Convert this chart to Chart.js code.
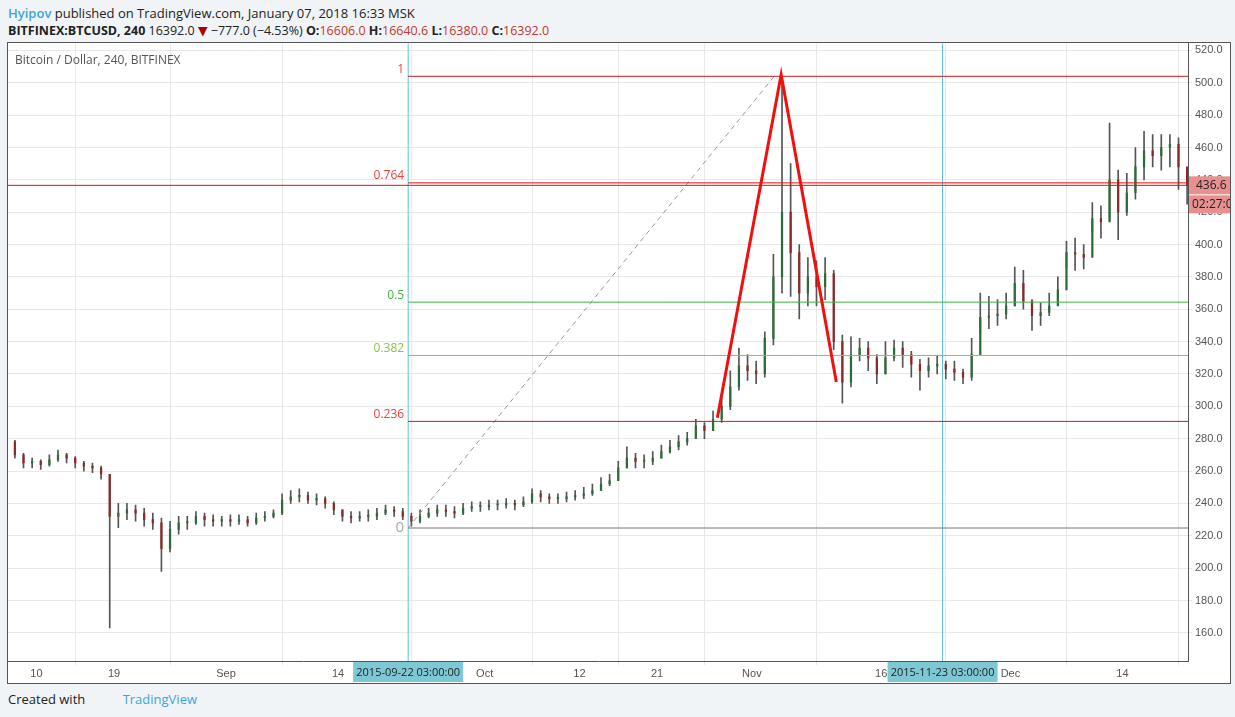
<!DOCTYPE html>
<html><head><meta charset="utf-8">
<script src="https://cdn.jsdelivr.net/npm/chart.js@4.4.1/dist/chart.umd.min.js"></script>
<style>
body{margin:0;background:#f1f4f7;font-family:"Open Sans","DejaVu Sans",sans-serif;width:1235px;height:717px;overflow:hidden;position:relative}
#h1{position:absolute;left:8px;top:4px;font-size:13px;color:#222}
#h1 b{color:#3ba6d8;font-weight:600}
#h2{position:absolute;left:8px;top:22px;font-size:12.5px;color:#222}
#h2 .r{color:#c0392b}
#box{position:absolute;left:7px;top:42px;width:1222px;height:640px;background:#fff;border:1px solid #555;box-sizing:content-box;overflow:hidden}
#c{position:absolute;left:0;top:-9px}
#foot{position:absolute;left:8px;top:690px;font-size:13px;color:#222}
#foot span{color:#3ba6d8;margin-left:34px}
</style></head><body>
<div id="h1"><b>Hyipov</b> published on TradingView.com, January 07, 2018 16:33 MSK</div>
<div id="h2"><b>BITFINEX:BTCUSD, 240</b> 16392.0 <span style="color:#a00">&#9660;</span> &minus;777.0 (&minus;4.53%) <b>O:</b><span class="r">16606.0</span> <b>H:</b><span class="r">16640.6</span> <b>L:</b><span class="r">16380.0</span> <b>C:</b><span class="r">16392.0</span></div>
<div id="box"><canvas id="c" width="1222" height="649"></canvas></div>
<div id="foot">Created with <span>TradingView</span></div>
<script>
// day index: days since 2015-08-01 (Aug 6 = 5)
const startDay = 5;
const closes = [278,270,265,266,264,267,270,268,265,263,262,258,232,234,236,234,230,228,212,224,228,228,232,230,229,230,
229,230,228,231,232,234,242,244,245,242,243,240,236,232,231,232,232,234,236,235,232,229,232,234,236,235,234,237,238,238,
239,239,240,239,241,246,244,243,243,244,245,246,248,252,254,262,268,266,266,268,272,275,278,280,288,285,292,300,312,325,322,
320,342,380,420,395,370,380,374,382,340,315,332,336,330,320,330,336,332,326,322,325,326,323,321,318,332,355,356,357,362,
376,365,356,358,362,372,395,394,392,416,414,440,420,432,448,458,455,460,462,448,436.6];
const highs = [281,279,271,268,267,270,273,271,269,266,265,263,258,240,240,239,237,234,231,229,232,232,235,234,233,232,
233,233,232,234,235,236,246,248,249,247,246,244,241,236,235,235,236,237,239,238,237,234,236,237,239,239,238,240,241,241,
242,242,243,242,244,249,248,246,246,247,248,250,252,256,258,266,275,271,270,272,276,279,282,284,292,290,297,306,322,336,332,
328,346,394,504,450,400,392,390,392,384,344,343,342,340,332,340,341,340,334,329,330,331,328,328,323,342,370,368,366,370,
386,384,366,364,370,380,402,404,400,426,424,475,446,444,460,470,468,468,468,466,446];
const lows = [274,268,262,262,261,263,266,265,262,260,259,255,163,225,230,229,226,224,198,210,221,224,227,226,226,226,
226,227,226,227,229,231,233,240,241,240,239,237,233,229,228,229,229,230,233,232,230,226,228,231,232,232,231,233,235,235,
236,236,237,236,238,240,241,240,240,241,242,243,245,248,251,254,262,262,262,264,268,271,273,276,282,280,285,290,298,310,316,
314,318,338,370,368,354,362,362,366,335,302,312,328,322,314,320,328,324,318,310,318,320,317,316,314,316,345,348,350,354,
362,360,347,350,356,365,386,384,385,408,404,415,403,418,428,440,448,446,448,434,425];

const tickDays = [9,18,31,44,61,72,81,92,107,122,135];
const tickLabels = ['10','19','Sep','14','Oct','12','21','Nov','16','Dec','14'];
const yTicks = [160,180,200,220,240,260,280,300,320,340,360,380,400,420,440,460,480,500,520];

const fibLevels = [1,0.764,0.5,0.382,0.236,0];
const fibColors = ['#d01818','#e01010','#3cb43c','#8bc34a','#d01818','#777777'];
const fibLabelColors = ['#f04040','#f04040','#3cb43c','#8bc34a','#f04040','#aaaaaa'];
const fibLow = 224.8, fibHigh = 504;
const fibStartDay = 52.125;
const markerDays = [52.125, 114.125];
const markerLabels = ['2015-09-22 03:00:00','2015-11-23 03:00:00'];
const trendPts = [[52.125,224.8],[94.6,504]];
const wavePts = [[88.0,293],[95.4,505],[101.8,315]];
const lastPrice = 436.6;

const xMin = 5.7, xMax = 142.6;
const wick=[], body=[], bodyColors=[];
closes.forEach((c,i)=>{
  const d = startDay + i + 0.5;
  const o = i===0 ? 280 : closes[i-1];
  wick.push({x:d, y:[lows[i],highs[i]]});
  body.push({x:d, y:[Math.min(o,c), Math.max(o,c)+ (Math.abs(o-c)<0.8?0.8:0)]});
  bodyColors.push(c>=o ? '#2e6b3a' : '#8b2a2a');
});

const datasets = [
  {type:'bar', data:wick, backgroundColor:'#555', barThickness:1, grouped:false, order:3},
  {type:'bar', data:body, backgroundColor:bodyColors, barThickness:1.6, grouped:false, order:2},
];
fibLevels.forEach((l,i)=>{
  const p = fibLow + (fibHigh-fibLow)*l;
  datasets.push({type:'line', data:[{x:fibStartDay,y:p},{x:xMax,y:p}], borderColor:fibColors[i], borderWidth:1, pointRadius:0, order:1});
});
datasets.push({type:'line', data:trendPts.map(p=>({x:p[0],y:p[1]})), borderColor:'#999', borderWidth:1, borderDash:[5,4], pointRadius:0, order:1});
datasets.push({type:'line', data:wavePts.map(p=>({x:p[0],y:p[1]})), borderColor:'#f01010', borderWidth:3, pointRadius:0, order:0});
markerDays.forEach(d=>{
  datasets.push({type:'line', data:[{x:d,y:130},{x:d,y:530}], borderColor:'#5bc0de', borderWidth:1, pointRadius:0, order:1});
});

const annot = {
  id:'annot',
  afterDraw(ch){
    const c=ch.ctx, xs=ch.scales.x, ys=ch.scales.y, ca=ch.chartArea;
    c.save();
    c.font='12px "Open Sans", sans-serif'; c.fillStyle='#555'; c.textAlign='left'; c.textBaseline='middle';
    c.fillText('Bitcoin / Dollar, 240, BITFINEX', 7, 27);
    c.textAlign='right';
    fibLevels.forEach((l,i)=>{
      const p = fibLow+(fibHigh-fibLow)*l;
      c.fillStyle=fibLabelColors[i];
      c.font = (l===0?'15px':'12px')+' "Open Sans", sans-serif';
      c.fillText(String(l), xs.getPixelForValue(fibStartDay)-4, ys.getPixelForValue(p)-(l===0?0:7));
    });
    c.font='11px "Open Sans", sans-serif'; c.textAlign='center';
    markerDays.forEach((d,i)=>{
      const x=xs.getPixelForValue(d);
      c.fillStyle='#7ec8d6'; c.fillRect(x-55, ca.bottom+1, 110, 20);
      c.fillStyle='#222'; c.fillText(markerLabels[i], x, ca.bottom+12);
    });
    const y=ys.getPixelForValue(lastPrice);
    c.strokeStyle='#e01010'; c.lineWidth=1; c.beginPath(); c.moveTo(ca.left,y); c.lineTo(ca.right,y); c.stroke();
    c.fillStyle='#e89090'; c.fillRect(ca.right+1,y-9,42,18); c.fillRect(ca.right+1,y+10,42,18);
    c.fillStyle='#222'; c.textAlign='left'; c.font='12px "Open Sans", sans-serif';
    c.fillText(lastPrice.toFixed(1), ca.right+8, y);
    c.fillText('02:27:0', ca.right+4, y+19);
    c.restore();
  }
};

new Chart(document.getElementById('c'), {
  data:{datasets},
  options:{
    responsive:false, animation:false,
    layout:{padding:0},
    plugins:{legend:{display:false}, tooltip:{enabled:false}},
    scales:{
      x:{type:'linear', min:xMin, max:xMax, offset:false,
        afterBuildTicks(s){ s.ticks = tickDays.map(v=>({value:v})); },
        afterFit(s){ s.height=22; },
        ticks:{callback:(v)=>{const i=tickDays.indexOf(v); return i<0?'':tickLabels[i];}, color:'#555', font:{size:11}, maxRotation:0, autoSkip:false, padding:2},
        grid:{color:'#e8e8e8', tickLength:4, drawTicks:true},
        border:{color:'#555'}
      },
      y:{type:'linear', position:'right', min:142.6, max:524.2,
        afterBuildTicks(s){ s.ticks = yTicks.map(v=>({value:v})); },
        afterFit(s){ s.width=42; },
        ticks:{callback:v=>v.toFixed(1), color:'#555', font:{size:11}, padding:3},
        grid:{color:'#e8e8e8', tickLength:4},
        border:{color:'#555'}
      }
    }
  },
  plugins:[annot]
});
</script>
</body></html>
